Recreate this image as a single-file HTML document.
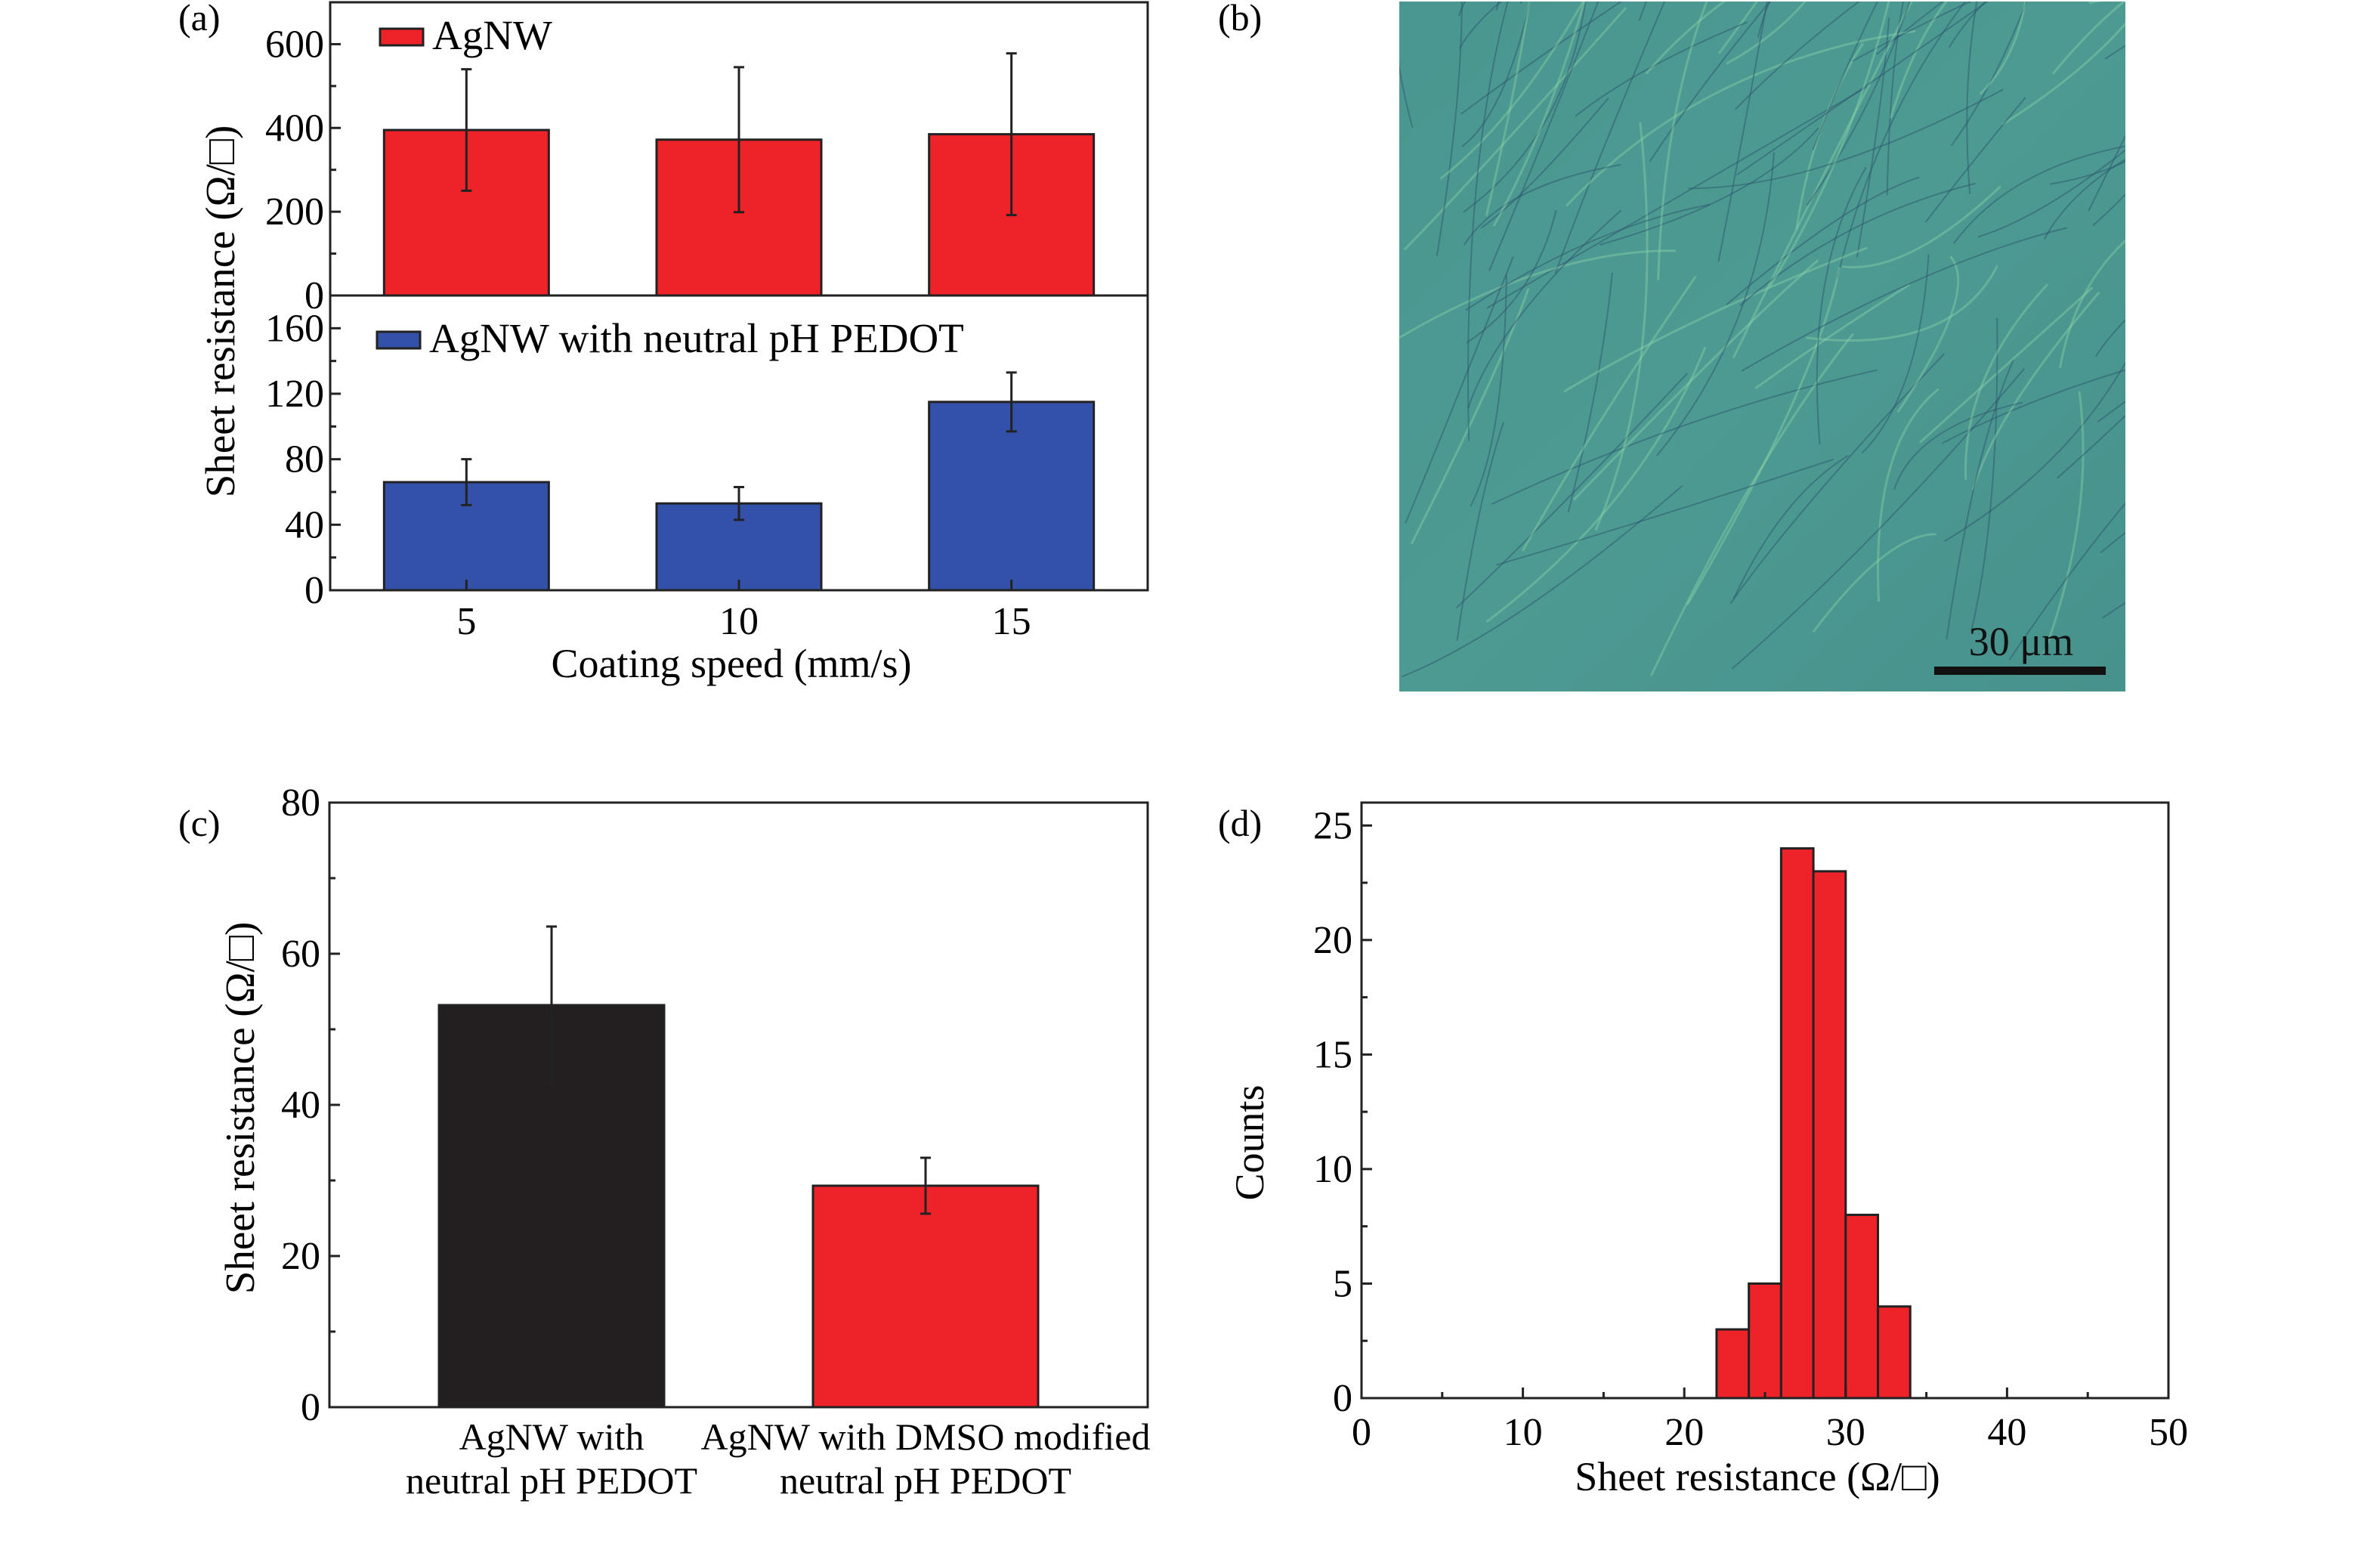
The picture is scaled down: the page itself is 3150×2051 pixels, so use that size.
<!DOCTYPE html>
<html><head><meta charset="utf-8"><style>
html,body{margin:0;padding:0;background:#fff;}
svg{display:block;font-family:"Liberation Serif",serif;}
</style></head><body>
<svg id="fig" width="3150" height="2051" viewBox="0 0 3150 2051" xmlns="http://www.w3.org/2000/svg">
<rect width="3150" height="2051" fill="#fff"/>
<text x="236" y="40" font-size="50">(a)</text>
<text x="1612" y="40" font-size="50">(b)</text>
<text x="236" y="1106" font-size="50">(c)</text>
<text x="1612" y="1106" font-size="50">(d)</text>
<g id="micro">
  <defs>
    <linearGradient id="mg" x1="0" y1="0" x2="1" y2="1">
      <stop offset="0" stop-color="#4a9690"/><stop offset="0.5" stop-color="#4d9a93"/><stop offset="1" stop-color="#47928c"/>
    </linearGradient>
    <clipPath id="mclip"><rect x="1852" y="2" width="961" height="913"/></clipPath>
  </defs>
  <rect x="1852" y="2" width="961" height="913" fill="url(#mg)"/>
  <g id="wires" clip-path="url(#mclip)"></g>
  <rect x="2560" y="882" width="227" height="11" fill="#111"/>
  <text x="2675" y="867" font-size="54" text-anchor="middle" fill="#111">30 μm</text>
</g>
<g id="plots"></g>
</svg>
<script>
// Panel (a) data
const aCats = ["5", "10", "15"];
const aTopVals = [395, 372, 385];
const aTopErr = [145, 173, 193];
const aBotVals = [66, 53, 115];
const aBotErr = [14, 10, 18];
const aTopTicks = [0, 200, 400, 600];
const aBotTicks = [0, 40, 80, 120, 160];
// Panel (c) data
const cCats = [["AgNW with", "neutral pH PEDOT"], ["AgNW with DMSO modified", "neutral pH  PEDOT"]];
const cVals = [53.2, 29.3];
const cErr = [10.4, 3.7];
const cTicks = [0, 20, 40, 60, 80];
// Panel (d) data
const dBinStart = [22, 24, 26, 28, 30, 32];
const dBinWidth = 2;
const dCounts = [3, 5, 24, 23, 8, 4];
const dXTicks = [0, 10, 20, 30, 40, 50];
const dYTicks = [0, 5, 10, 15, 20, 25];

const NS = "http://www.w3.org/2000/svg";
const root = document.getElementById("plots");
function el(tag, attrs, parent, text) {
  const e = document.createElementNS(NS, tag);
  for (const k in attrs) e.setAttribute(k, attrs[k]);
  if (text !== undefined) e.textContent = text;
  (parent || root).appendChild(e);
  return e;
}
const RED = "#ee2229", BLUE = "#3451a9", BLACK = "#231f20";

function ebar(x, y1, y2, g) {
  const l = el("path", {d:`M${x},${y1}V${y2}M${x-7},${y1}H${x+7}M${x-7},${y2}H${x+7}`, stroke:"#222", "stroke-width":3, fill:"none"}, g);
  
  
}

// ---------- Panel (a) ----------
const aL = 437, aR = 1519, aT = 3, aM = 391, aB = 781;
const aX = i => aL + (aR - aL) * (i + 0.5) / 3 + (i - 1) * 0;
const aTopY = v => aM - (aM - aT) * v / 700;
const aBotY = v => aB - (aB - aM) * v / 180;
const aBW = 218;
const ga = el("g", {});


aTopVals.forEach((v, i) => {
  const r = el("rect", {x:aX(i)-aBW/2, y:aTopY(v), width:aBW, height:aM-aTopY(v), fill:RED, stroke:"#222", "stroke-width":3}, ga);
  
  
  ebar(aX(i), aTopY(v + aTopErr[i]), aTopY(v - aTopErr[i]), ga);
});
aBotVals.forEach((v, i) => {
  const r = el("rect", {x:aX(i)-aBW/2, y:aBotY(v), width:aBW, height:aB-aBotY(v), fill:BLUE, stroke:"#222", "stroke-width":3}, ga);
  
  
  ebar(aX(i), aBotY(v + aBotErr[i]), aBotY(v - aBotErr[i]), ga);
});
el("rect", {x:aL, y:aT, width:aR-aL, height:aB-aT, fill:"none", stroke:"#222", "stroke-width":3}, ga);
el("line", {x1:aL, x2:aR, y1:aM, y2:aM, stroke:"#222", "stroke-width":3}, ga);
for (let v = 0; v <= 700; v += 100) {
  const maj = v % 200 === 0;
  el("line", {x1:aL, x2:aL+(maj?14:8), y1:aTopY(v), y2:aTopY(v), stroke:"#222", "stroke-width":3}, ga);
}
aTopTicks.forEach(v => {
  const t = el("text", {x:aL-8, y:aTopY(v)+17, "font-size":52, "text-anchor":"end"}, ga, String(v));
  
  
});
for (let v = 0; v <= 180; v += 20) {
  const maj = v % 40 === 0;
  el("line", {x1:aL, x2:aL+(maj?14:8), y1:aBotY(v), y2:aBotY(v), stroke:"#222", "stroke-width":3}, ga);
}
aBotTicks.forEach(v => {
  const t = el("text", {x:aL-8, y:aBotY(v)+17, "font-size":52, "text-anchor":"end"}, ga, String(v));
  
  
});
aCats.forEach((c, i) => {
  el("line", {x1:aX(i), x2:aX(i), y1:aB, y2:aB-14, stroke:"#222", "stroke-width":3}, ga);
  const t = el("text", {x:aX(i), y:839, "font-size":52, "text-anchor":"middle"}, ga, c);
  
  
});
let t = el("text", {x:968, y:896, "font-size":54, "text-anchor":"middle"}, ga, "Coating speed (mm/s)");


t = el("text", {x:0, y:0, "font-size":55, "text-anchor":"middle", transform:"translate(310,412) rotate(-90)"}, ga, "Sheet resistance (Ω/□)");


let lg = el("rect", {x:503, y:38, width:57, height:22, fill:RED, stroke:"#222", "stroke-width":3}, ga);


t = el("text", {x:572, y:65, "font-size":55}, ga, "AgNW");


lg = el("rect", {x:499, y:439, width:57, height:22, fill:BLUE, stroke:"#222", "stroke-width":3}, ga);


t = el("text", {x:568, y:466, "font-size":55}, ga, "AgNW with neutral pH PEDOT");



// ---------- Panel (c) ----------
const cL = 436, cR = 1519, cT = 1062, cB = 1862;
const cY = v => cB - (cB - cT) * v / 80;
const cXc = [730, 1225];
const cBW = 298;
const gc = el("g", {});


cVals.forEach((v, i) => {
  const r = el("rect", {x:cXc[i]-cBW/2, y:cY(v), width:cBW, height:cB-cY(v), fill:i===0?BLACK:RED, stroke:"#222", "stroke-width":3}, gc);
  
  
  ebar(cXc[i], cY(v + cErr[i]), cY(v - cErr[i]), gc);
  cCats[i].forEach((line, j) => {
    const tt = el("text", {x:cXc[i], y:1918 + j*58, "font-size":50, "text-anchor":"middle"}, gc, line);
    
    
  });
});
el("rect", {x:cL, y:cT, width:cR-cL, height:cB-cT, fill:"none", stroke:"#222", "stroke-width":3}, gc);
for (let v = 0; v <= 80; v += 10) {
  const maj = v % 20 === 0;
  el("line", {x1:cL, x2:cL+(maj?14:8), y1:cY(v), y2:cY(v), stroke:"#222", "stroke-width":3}, gc);
}
cTicks.forEach(v => {
  const tt = el("text", {x:cL-12, y:cY(v)+17, "font-size":52, "text-anchor":"end"}, gc, String(v));
  
  
});
t = el("text", {x:0, y:0, "font-size":55, "text-anchor":"middle", transform:"translate(336,1466) rotate(-90)"}, gc, "Sheet resistance (Ω/□)");



// ---------- Panel (d) ----------
const dL = 1802, dR = 2870, dT = 1062, dB = 1850;
const dX = v => dL + (dR - dL) * v / 50;
const dY = v => dB - (dB - dT) * v / 26;
const gd = el("g", {});


dCounts.forEach((c, i) => {
  const x0 = dX(dBinStart[i]), x1 = dX(dBinStart[i] + dBinWidth);
  const r = el("rect", {x:x0, y:dY(c), width:x1-x0, height:dB-dY(c), fill:RED, stroke:"#222", "stroke-width":3}, gd);
  
  
});
el("rect", {x:dL, y:dT, width:dR-dL, height:dB-dT, fill:"none", stroke:"#222", "stroke-width":3}, gd);
for (let v = 0; v <= 50; v += 5) {
  const maj = v % 10 === 0;
  el("line", {x1:dX(v), x2:dX(v), y1:dB, y2:dB-(maj?14:8), stroke:"#222", "stroke-width":3}, gd);
}
for (let v = 0; v <= 25; v += 2.5) {
  const maj = v % 5 === 0;
  el("line", {x1:dL, x2:dL+(maj?14:8), y1:dY(v), y2:dY(v), stroke:"#222", "stroke-width":3}, gd);
}
dXTicks.forEach(v => {
  const tt = el("text", {x:dX(v), y:1912, "font-size":52, "text-anchor":"middle"}, gd, String(v));
  
  
});
dYTicks.forEach(v => {
  const tt = el("text", {x:dL-12, y:dY(v)+17, "font-size":52, "text-anchor":"end"}, gd, String(v));
  
  
});
t = el("text", {x:2326, y:1972, "font-size":54, "text-anchor":"middle"}, gd, "Sheet resistance (Ω/□)");


t = el("text", {x:0, y:0, "font-size":54, "text-anchor":"middle", transform:"translate(1672,1512) rotate(-90)"}, gd, "Counts");



// decorative nanowire texture for micrograph
const wg = document.getElementById("wires");
let seed = 7;
function rnd() { seed = (seed * 9301 + 49297) % 233280; return seed / 233280; }
for (let i = 0; i < 110; i++) {
  const x = 1852 + rnd() * 961, y = 2 + rnd() * 913;
  const len = 200 + rnd() * 400, ang = -0.3 - rnd() * 1.2;
  const x2 = x + Math.cos(ang) * len, y2 = y + Math.sin(ang) * len;
  const cx = (x + x2) / 2 + (rnd() - 0.5) * 150, cy = (y + y2) / 2 + (rnd() - 0.5) * 150;
  const light = i % 3 === 0;
  el("path", {d:`M${x},${y}Q${cx},${cy} ${x2},${y2}`, fill:"none", stroke:light?"#8fd6a8":"#2a4f6a", "stroke-width":light?3:2, opacity:light?0.4:0.45}, wg);
}
</script>
</body></html>
